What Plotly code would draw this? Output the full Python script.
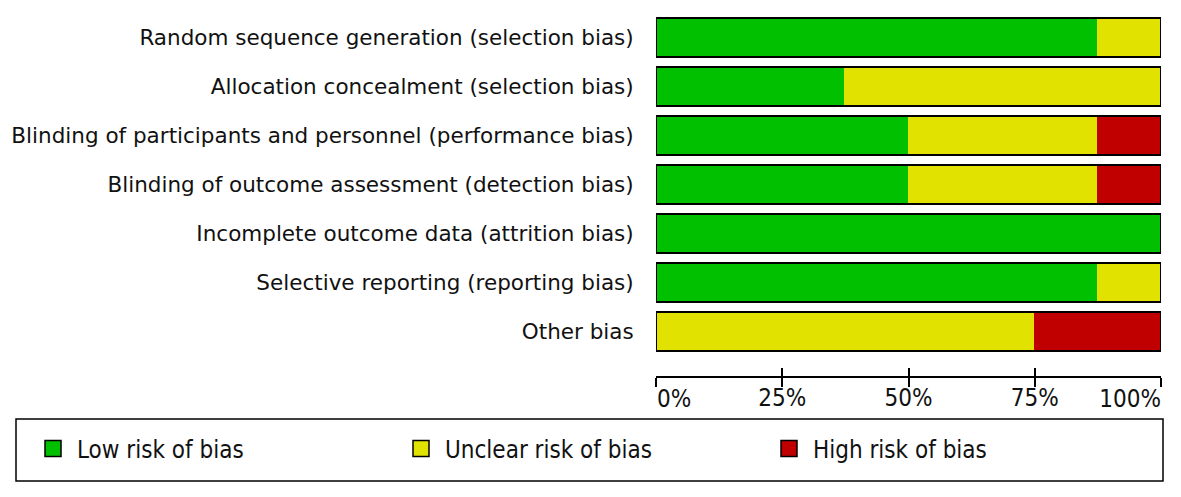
import plotly.graph_objects as go

# Risk of bias graph (percent of studies per domain)
domains = [
    'Random sequence generation (selection bias)',
    'Allocation concealment (selection bias)',
    'Blinding of participants and personnel (performance bias)',
    'Blinding of outcome assessment (detection bias)',
    'Incomplete outcome data (attrition bias)',
    'Selective reporting (reporting bias)',
    'Other bias',
]
low_risk = [87.5, 37.5, 50, 50, 100, 87.5, 0]
unclear_risk = [12.5, 62.5, 37.5, 37.5, 0, 12.5, 75]
high_risk = [0, 0, 12.5, 12.5, 0, 0, 25]
tick_vals = [0, 25, 50, 75, 100]
tick_text = ['0%', '25%', '50%', '75%', '100%']

series = [
    ('Low risk of bias', low_risk, '#00c000'),
    ('Unclear risk of bias', unclear_risk, '#e2e200'),
    ('High risk of bias', high_risk, '#c00000'),
]

# page body has an 8px margin, so the figure is a bit smaller than the window
OFF = 8
W, H = 1181 - 2 * OFF, 497 - 2 * OFF


def px(x):
    return (x - OFF) / W


def py(y):
    return 1 - (y - OFF) / H


label_font = dict(family='DejaVu Sans, sans-serif', size=21.5, color='#111111')
narrow_font = dict(family='DejaVu Sans Condensed, Liberation Sans Narrow, DejaVu Sans', size=24, color='#111111')

fig = go.Figure()

for name, vals, col in series:
    fig.add_trace(go.Bar(
        y=domains, x=vals, orientation='h', name=name,
        marker=dict(color=col, line=dict(color=col, width=1)),
        width=0.78, showlegend=False, hoverinfo='x+y',
    ))

# black outline round each whole bar
totals = [a + b + c for a, b, c in zip(low_risk, unclear_risk, high_risk)]
fig.add_trace(go.Bar(
    y=domains, x=totals, orientation='h', xaxis='x2',
    marker=dict(color='rgba(0,0,0,0)', line=dict(color='black', width=2)),
    width=0.78, showlegend=False, hoverinfo='skip',
))

# helper axes (upward ticks, end labels) need a trace to be drawn
for ax in ['x3', 'x4']:
    fig.add_trace(go.Bar(y=[domains[0]], x=[0], orientation='h', xaxis=ax,
                         showlegend=False, hoverinfo='skip',
                         marker=dict(color='rgba(0,0,0,0)')))

# legend entries, one legend each so they can be spaced like the original
legend_names = ['legend', 'legend2', 'legend3']
legend_x = [29, 397, 765]
for (name, vals, col), lg in zip(series, legend_names):
    fig.add_trace(go.Scatter(
        x=[None], y=[None], mode='markers', name=name, legend=lg,
        marker=dict(symbol='square', size=16, color=col, line=dict(color='black', width=1.5)),
    ))

axis_y = py(377)
axis_common = dict(
    overlaying='x', anchor='free', position=axis_y, range=[0, 100], automargin=False,
    showgrid=False, zeroline=False, tickvals=tick_vals, tickfont=narrow_font,
    ticklabeloverflow='allow',
)

legend_common = dict(
    orientation='h', yanchor='middle', y=py(449), xanchor='left',
    font=narrow_font, itemwidth=38, bgcolor='rgba(0,0,0,0)',
)

fig.update_layout(
    width=W, height=H, autosize=False,
    margin=dict(l=0, r=0, t=0, b=0, autoexpand=False),
    paper_bgcolor='white', plot_bgcolor='white',
    barmode='stack', bargap=0,
    xaxis=dict(domain=[px(656), px(1161)], range=[0, 100], visible=False,
               fixedrange=True, automargin=False),
    # axis line, downward ticks, middle labels
    xaxis2=dict(
        showline=True, linecolor='black', linewidth=2,
        ticks='outside', ticklen=9, tickwidth=2, tickcolor='black',
        ticktext=['', tick_text[1], tick_text[2], tick_text[3], ''],
        ticklabelstandoff=-10, **axis_common,
    ),
    # upward ticks + first label to the right of its tick
    xaxis3=dict(
        showline=False, ticks='inside', ticklen=9, tickwidth=2, tickcolor='black',
        ticktext=[tick_text[0], '', '', '', ''], ticklabelposition='outside right',
        ticklabelstandoff=5, **axis_common,
    ),
    # last label to the left of its tick
    xaxis4=dict(
        showline=False, ticks='', ticktext=['', '', '', '', tick_text[4]],
        ticklabelposition='outside left', ticklabelstandoff=5, **axis_common,
    ),
    yaxis=dict(
        domain=[py(355.5), py(12.5)], autorange='reversed', automargin=False,
        showgrid=False, zeroline=False, showline=False,
        ticks='outside', ticklen=0, ticklabelstandoff=17, tickfont=label_font,
    ),
    legend=dict(x=px(legend_x[0]), **legend_common),
    legend2=dict(x=px(legend_x[1]), **legend_common),
    legend3=dict(x=px(legend_x[2]), **legend_common),
    shapes=[dict(
        type='rect', xref='paper', yref='paper',
        x0=px(16), x1=px(1163), y0=py(481), y1=py(419),
        line=dict(color='black', width=1.5), fillcolor='rgba(0,0,0,0)',
    )],
)

fig.write_html('out.html')
